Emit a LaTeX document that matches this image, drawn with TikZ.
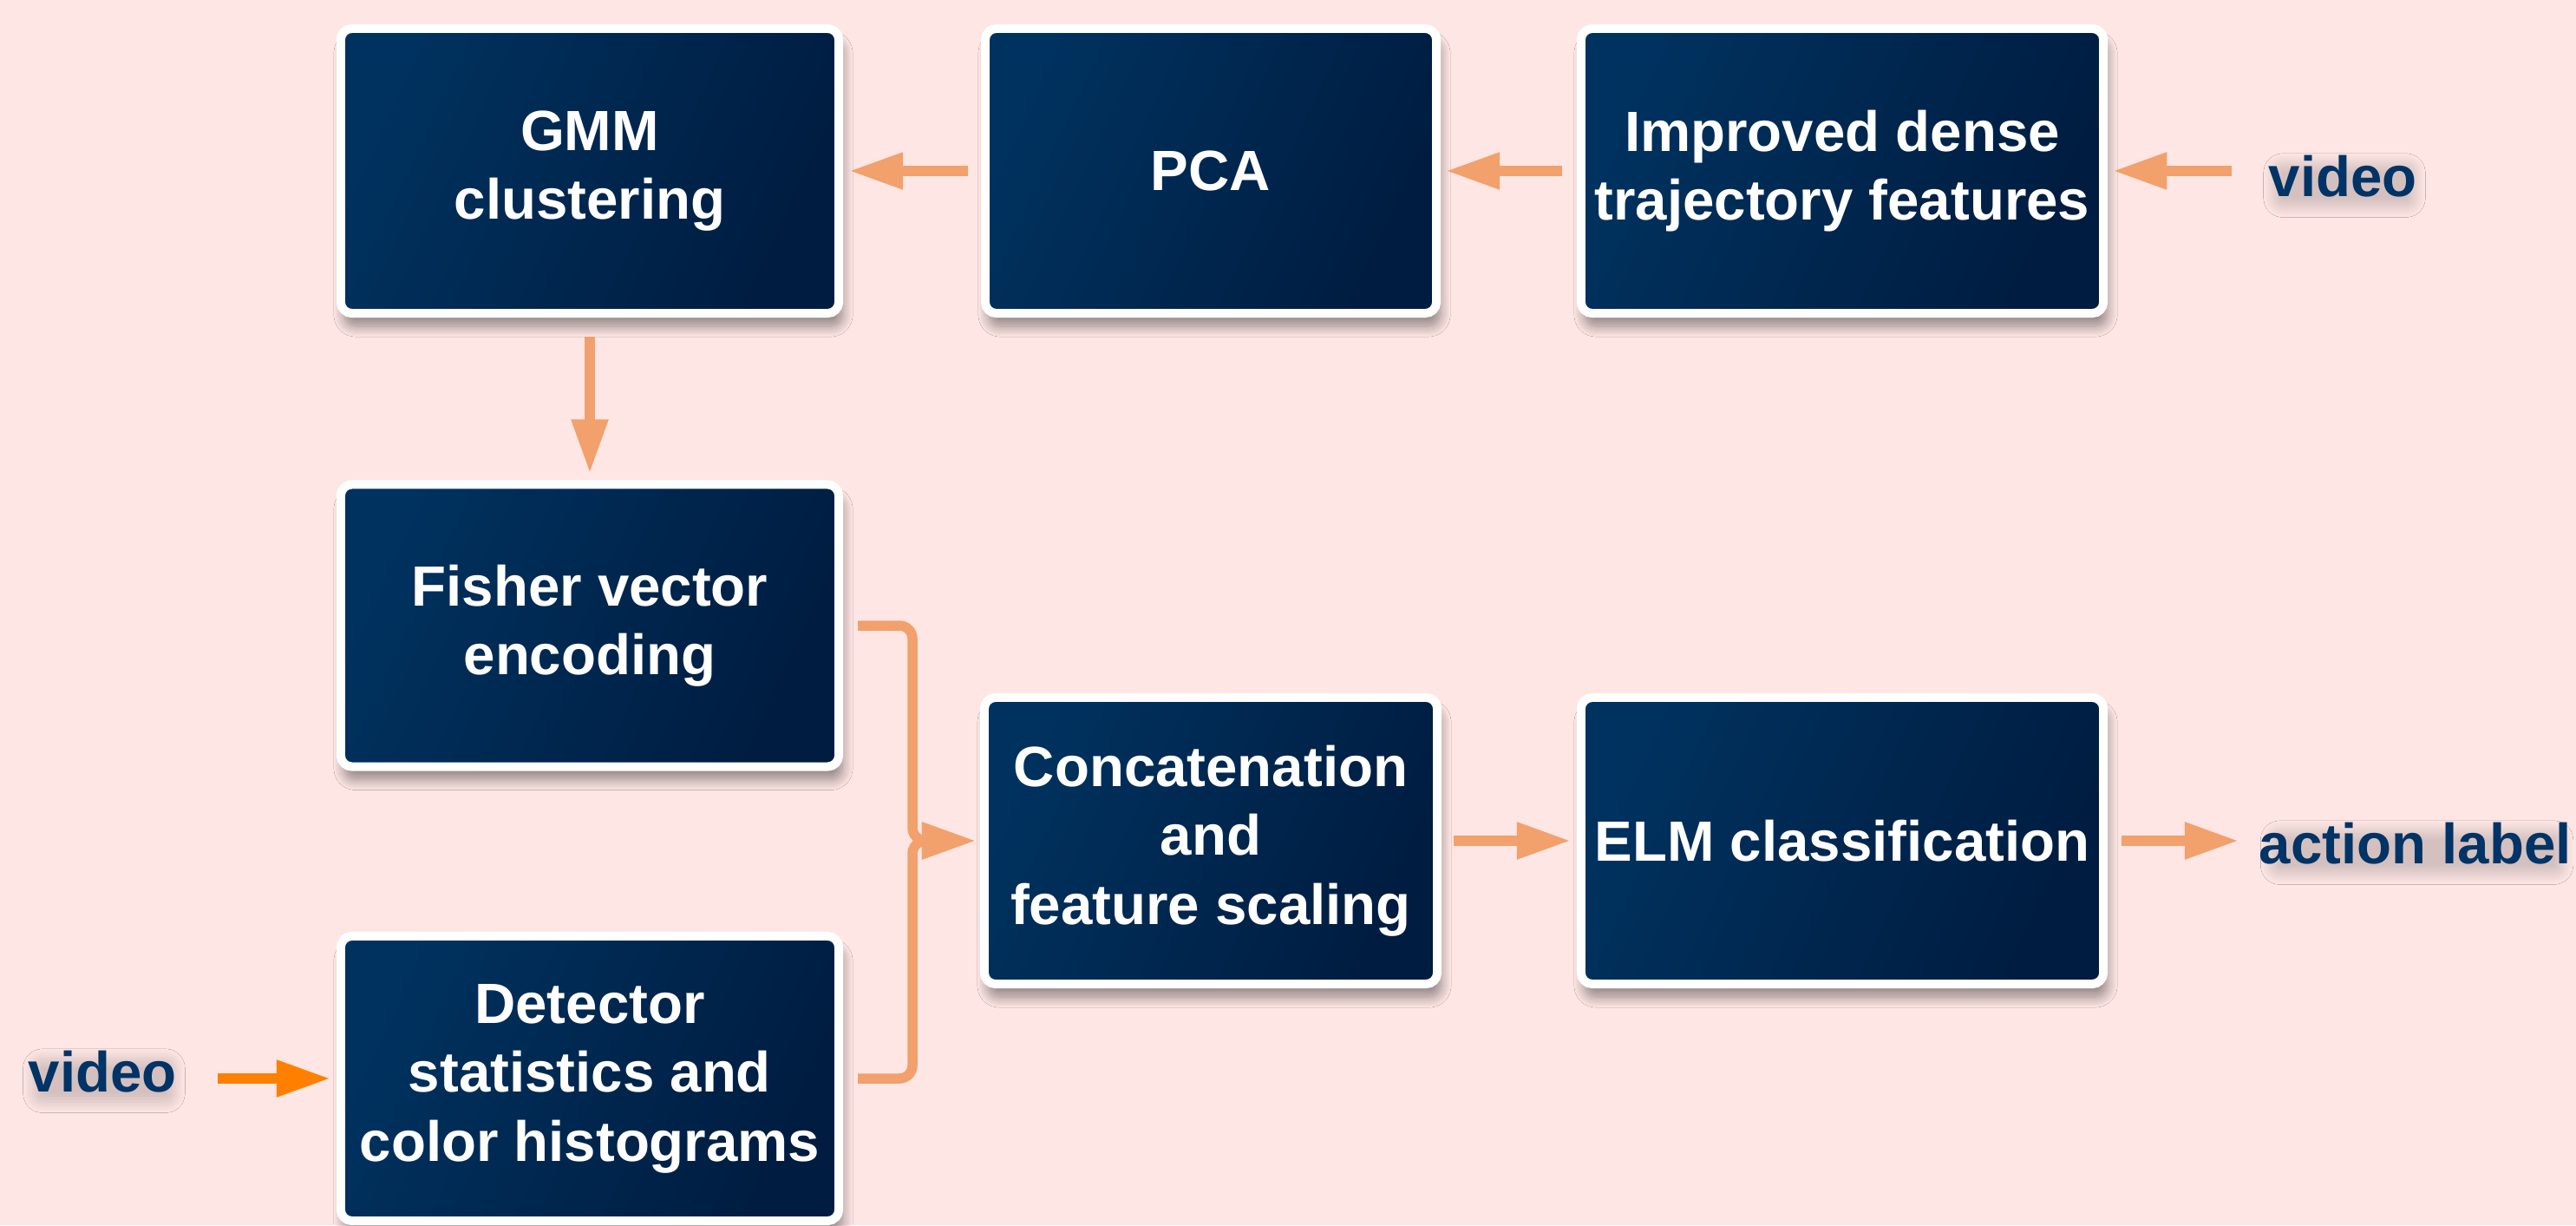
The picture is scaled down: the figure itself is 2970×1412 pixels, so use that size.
\documentclass[tikz,border=0pt]{standalone}
\usepackage{fontspec}
\setmainfont{Liberation Sans}
\usetikzlibrary{arrows.meta,shadows.blur}

\definecolor{bgpink}{HTML}{FDE6E4}
\definecolor{navyA}{HTML}{00325F}
\definecolor{navyB}{HTML}{001C40}
\definecolor{inknavy}{HTML}{003366}
\definecolor{sand}{HTML}{F2A06C}
\definecolor{vivid}{HTML}{FF8000}

\tikzset{
  stage/.style={rectangle, rounded corners=0.13cm, draw=white, line width=0.10cm,
    outer sep=0.05cm, inner sep=0pt,
    left color=navyA, right color=navyB, shading angle=65,
    blur shadow={shadow xshift=0.04cm, shadow yshift=-0.15cm,
                 shadow blur radius=0.12cm, shadow blur steps=12, shadow opacity=42},
    text=white, align=center,
    font=\bfseries\fontsize{18.6}{22.6}\selectfont},
  tag/.style={inner sep=0.04cm, text=inknavy,
    blur shadow={shadow xshift=0.02cm, shadow yshift=-0.12cm, shadow scale=0.92,
                 shadow blur radius=0.12cm, shadow blur extra rounding=0.12cm,
                 shadow blur steps=12, shadow opacity=16},
    font=\bfseries\fontsize{18.6}{22.6}\selectfont},
  flow/.style={draw=sand, line width=0.115cm,
    shorten <=0.15cm, shorten >=0.07cm,
    -{Triangle[length=0.62cm,width=0.40cm]}},
  branch/.style={flow, rounded corners=0.15cm, shorten <=0.17cm, shorten >=0.05cm},
}

\begin{document}
\begin{tikzpicture}[x=0.01cm, y=-0.01cm]
  % canvas
  \fill[bgpink] (0,0) rectangle (2970,1412);
  \useasboundingbox (0,0) rectangle (2970,1412);

  % processing stages
  \node[stage, minimum width=5.74cm, minimum height=3.28cm] (gmm) at (680,197) {GMM\\clustering};
  \node[stage, minimum width=5.20cm, minimum height=3.28cm] (pca) at (1396,197) {PCA};
  \node[stage, minimum width=6.02cm, minimum height=3.28cm] (idt) at (2124,197) {Improved dense\\trajectory features};
  \node[stage, minimum width=5.74cm, minimum height=3.25cm] (fis) at (680,721) {Fisher vector\\encoding};
  \node[stage, minimum width=5.22cm, minimum height=3.30cm] (cat) at (1396,969) {Concatenation\\and\\feature scaling};
  \node[stage, minimum width=6.02cm, minimum height=3.30cm] (elm) at (2124,969) {ELM classification};
  \node[stage, minimum width=5.74cm, minimum height=3.28cm] (det) at (680,1243) {Detector\\statistics and\\color histograms};

  % inputs and output
  \node[tag, anchor=base west] (vidA) at (2611,226) {video};
  \node[tag, anchor=base west] (act) at (2600,995) {action label};
  \node[tag, anchor=base west] (vidB) at (28,1258) {video};

  % top row, right to left
  \draw[flow, shorten <=0.38cm, shorten >=0.06cm] (vidA.west |- idt.east) -- (idt.east);
  \draw[flow, shorten <=0.17cm, shorten >=0.06cm] (idt.west) -- (pca.east);
  \draw[flow] (pca.west) -- (gmm.east);
  \draw[flow, shorten <=0.22cm, shorten >=0.08cm] (gmm.south) -- (fis.north);

  % merge of the two feature streams
  \coordinate (join) at (1052,969);
  \draw[branch] (fis.east) -- (fis.east -| join) -- (join) -- (cat.west);
  \draw[branch] (det.east) -- (det.east -| join) -- (join) -- (cat.west);

  % bottom row
  \draw[flow, shorten <=0.14cm] (cat.east) -- (elm.west);
  \draw[flow, shorten <=0.16cm, shorten >=0.19cm] (elm.east) -- (act.west |- elm.east);
  \draw[flow, draw=vivid, shorten <=0.43cm] (vidB.east |- det.west) -- (det.west);
\end{tikzpicture}
\end{document}
